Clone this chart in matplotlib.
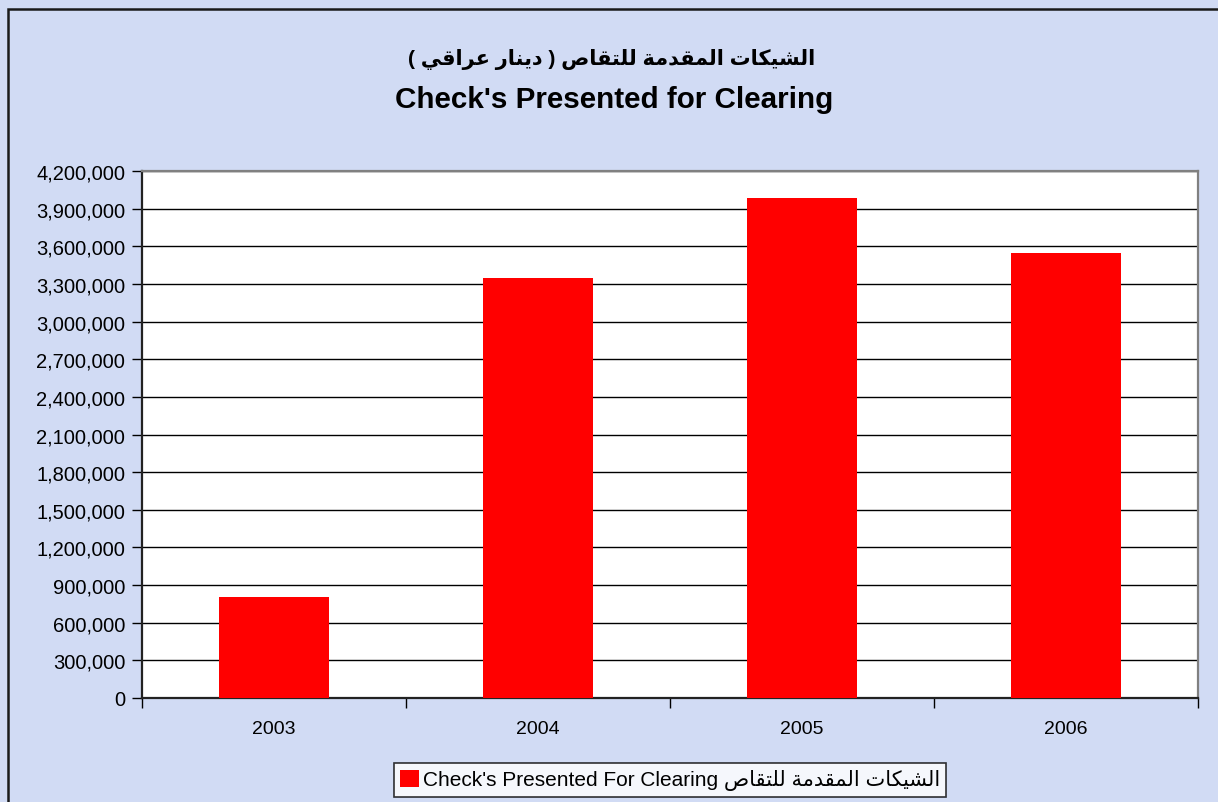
import matplotlib
matplotlib.use("Agg")
import matplotlib.pyplot as plt
from matplotlib.ticker import FuncFormatter, FixedLocator
from matplotlib.patches import Rectangle, Patch

# ---- data ----
years = ["2003", "2004", "2005", "2006"]
values = [805000, 3347000, 3982000, 3548000]
yticks = list(range(0, 4200001, 300000))
title_ar = "الشيكات المقدمة للتقاص ( دينار عراقي )"
title_en = "Check's Presented for Clearing"
legend_en = "Check's Presented For Clearing"
legend_ar = "الشيكات المقدمة للتقاص"

# ---- minimal Arabic shaping (presentation forms) ----
FORMS = {
    'ا': ('\uFE8D', '\uFE8E', None, None),
    'د': ('\uFEA9', '\uFEAA', None, None),
    'ة': ('\uFE93', '\uFE94', None, None),
    'ر': ('\uFEAD', '\uFEAE', None, None),
    'ل': ('\uFEDD', '\uFEDE', '\uFEDF', '\uFEE0'),
    'ش': ('\uFEB5', '\uFEB6', '\uFEB7', '\uFEB8'),
    'ي': ('\uFEF1', '\uFEF2', '\uFEF3', '\uFEF4'),
    'ك': ('\uFED9', '\uFEDA', '\uFEDB', '\uFEDC'),
    'ت': ('\uFE95', '\uFE96', '\uFE97', '\uFE98'),
    'م': ('\uFEE1', '\uFEE2', '\uFEE3', '\uFEE4'),
    'ق': ('\uFED5', '\uFED6', '\uFED7', '\uFED8'),
    'ص': ('\uFEB9', '\uFEBA', '\uFEBB', '\uFEBC'),
    'ن': ('\uFEE5', '\uFEE6', '\uFEE7', '\uFEE8'),
    'ع': ('\uFEC9', '\uFECA', '\uFECB', '\uFECC'),
}


def shape_word(w):
    """Contextual forms for one word, returned in visual (left-to-right) order."""
    out = []
    for i, c in enumerate(w):
        if c not in FORMS:
            out.append(c)
            continue
        prev = w[i - 1] if i > 0 else None
        nxt = w[i + 1] if i + 1 < len(w) else None
        jp = prev in FORMS and FORMS[prev][2] is not None
        jn = FORMS[c][2] is not None and nxt in FORMS
        f = FORMS[c]
        if jp and jn:
            g = f[3]
        elif jp:
            g = f[1]
        elif jn:
            g = f[2]
        else:
            g = f[0]
        out.append(g)
    if any(ch in FORMS for ch in w):
        out = out[::-1]
    return "".join(out)


MIRROR = {"(": ")", ")": "("}


def visual(text):
    # right-to-left display: shape each word, reverse the word order, mirror brackets
    toks = [MIRROR.get(t, shape_word(t)) for t in text.split(" ")]
    return " ".join(toks[::-1])


FAM = ["Liberation Sans", "DejaVu Sans"]
plt.rcParams["font.family"] = FAM

W, H = 1218, 803
fig = plt.figure(figsize=(W / 100, H / 100), dpi=100)
bg = "#D1DBF4"
fig.patch.set_facecolor(bg)

# figure frame (left/top visible)
fig.add_artist(Rectangle((8 / W, -0.1), 1.2, 1 - 10 / H + 0.1, transform=fig.transFigure,
                         fill=False, edgecolor="#1a1a1a", lw=1.8))

ax = fig.add_axes([142 / W, 1 - 699 / H, (1198 - 142) / W, (699 - 172) / H])
ax.set_facecolor("white")
x = list(range(len(years)))
ax.bar(x, values, width=0.415, color="#FF0000", zorder=3)
ax.set_xlim(-0.5, len(years) - 0.5)
ax.set_ylim(0, 4200000)
ax.set_yticks(yticks)
ax.yaxis.set_major_formatter(FuncFormatter(lambda v, p: f"{int(v):,}"))
ax.grid(axis="y", color="black", lw=1.0, zorder=1)
ax.set_axisbelow(True)

ax.set_xticks(x)
ax.set_xticklabels(years)
ax.xaxis.set_minor_locator(FixedLocator([i - 0.5 for i in range(len(years) + 1)]))
ax.tick_params(axis="x", which="major", length=0, pad=16, labelsize=14)
ax.tick_params(axis="x", which="minor", length=7, width=1, color="black", direction="out")
ax.tick_params(axis="y", length=7, width=1, color="black", direction="out", pad=5, labelsize=14.5)

for s in ["left", "bottom"]:
    ax.spines[s].set_color("#222222")
    ax.spines[s].set_linewidth(1.6)
for s in ["top", "right"]:
    ax.spines[s].set_color("#808080")
    ax.spines[s].set_linewidth(1.6)

fig.text(612 / W, 1 - 60 / H, visual(title_ar), ha="center", va="center",
         fontsize=15, fontweight="bold", family=FAM)
fig.text(614 / W, 1 - 100 / H, title_en, ha="center", va="center",
         fontsize=21.3, fontweight="bold", family=FAM)

handle = Patch(facecolor="#FF0000", edgecolor="none")
leg = fig.legend([handle], [legend_en + " " + visual(legend_ar)], loc="center",
                 bbox_to_anchor=(670 / W, 1 - 781 / H), frameon=True, fancybox=False,
                 handlelength=0.9, handleheight=0.9, handletextpad=0.2, borderpad=0.3,
                 borderaxespad=0, prop={"size": 15, "family": FAM})
leg.get_frame().set_edgecolor("black")
leg.get_frame().set_linewidth(1.2)
leg.get_frame().set_facecolor("white")

fig.savefig("out.png", dpi=100, facecolor=fig.get_facecolor())
